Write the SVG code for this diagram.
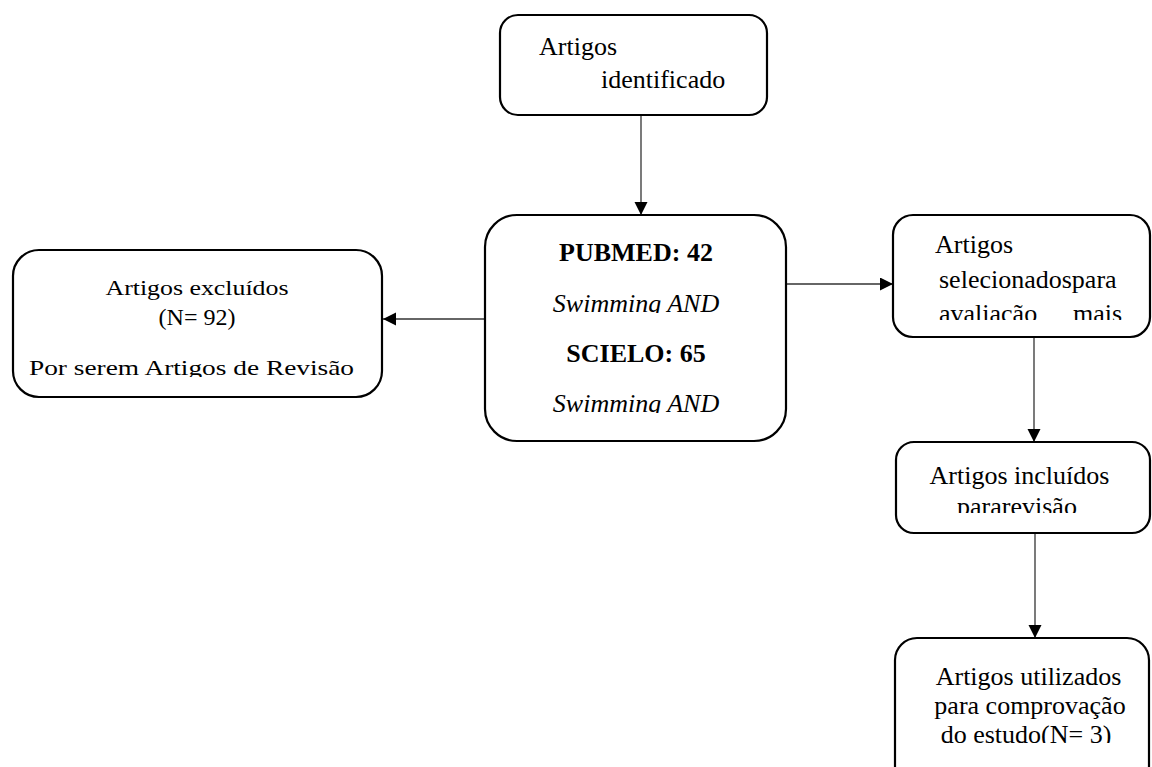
<svg xmlns="http://www.w3.org/2000/svg" width="1152" height="767" viewBox="0 0 1152 767">
<style>
.box{fill:#fff;stroke:#000;stroke-width:2.2}
.t{font-family:"Liberation Serif","Times New Roman",serif;font-size:26px;fill:#000}
.b{font-weight:bold}
.i{font-style:italic}
.c{text-anchor:middle}
.ln{stroke:#333;stroke-width:1.3;fill:none}
</style>
<defs>
<marker id="ah" markerWidth="15" markerHeight="15" refX="13" refY="6.5" orient="auto" markerUnits="userSpaceOnUse">
<path d="M0,0 L13,6.5 L0,13 Z" fill="#000"/>
</marker>
<clipPath id="c1"><rect x="480" y="280" width="310" height="33"/></clipPath>
<clipPath id="c2"><rect x="480" y="380" width="310" height="33"/></clipPath>
<clipPath id="c3"><rect x="10" y="345" width="380" height="32"/></clipPath>
<clipPath id="c4"><rect x="890" y="295" width="262" height="25"/></clipPath>
<clipPath id="c5"><rect x="890" y="490" width="262" height="23"/></clipPath>
<clipPath id="c6"><rect x="890" y="715" width="262" height="28"/></clipPath>
</defs>
<g id="connectors">
<line class="ln" x1="641" y1="115" x2="641" y2="215" marker-end="url(#ah)"/>
<line class="ln" x1="485" y1="319" x2="383" y2="319" marker-end="url(#ah)"/>
<line class="ln" x1="786" y1="284" x2="893" y2="284" marker-end="url(#ah)"/>
<line class="ln" x1="1034" y1="337" x2="1034" y2="442" marker-end="url(#ah)"/>
<line class="ln" x1="1035" y1="533" x2="1035" y2="638" marker-end="url(#ah)"/>
</g>
<g id="n-identificado">
<rect class="box" x="500" y="15" width="267" height="100" rx="18"/>
<text class="t" x="539" y="55">Artigos</text>
<text class="t" x="601" y="88">identificado</text>
</g>
<g id="n-bases">
<rect class="box" x="485" y="215" width="301" height="226" rx="32"/>
<text class="t b c" x="636" y="261">PUBMED: 42</text>
<text class="t i c" x="636" y="312" clip-path="url(#c1)">Swimming AND</text>
<text class="t b c" x="636" y="362">SCIELO: 65</text>
<text class="t i c" x="636" y="412" clip-path="url(#c2)">Swimming AND</text>
</g>
<g id="n-excluidos">
<rect class="box" x="13" y="250" width="369" height="147" rx="26"/>
<text class="t c" x="197" y="295" textLength="183" lengthAdjust="spacingAndGlyphs" style="font-size:22px">Artigos excluídos</text>
<text class="t c" x="197" y="325" style="font-size:24px">(N= 92)</text>
<text class="t c" x="191.5" y="375" textLength="325" lengthAdjust="spacingAndGlyphs" clip-path="url(#c3)" style="font-size:22px">Por serem Artigos de Revisão</text>
</g>
<g id="n-selecionados">
<rect class="box" x="893" y="215" width="257" height="122" rx="20"/>
<text class="t" x="935" y="253">Artigos</text>
<text class="t" x="939" y="288">selecionadospara</text>
<g clip-path="url(#c4)">
<text class="t" x="939" y="322">avaliação</text>
<text class="t" x="1073" y="322">mais</text>
</g>
</g>
<g id="n-incluidos">
<rect class="box" x="896" y="442" width="254" height="91" rx="18"/>
<text class="t c" x="1019.5" y="484">Artigos incluídos</text>
<text class="t c" x="1017" y="515" clip-path="url(#c5)">pararevisão</text>
</g>
<g id="n-utilizados">
<rect class="box" x="895" y="638" width="254" height="150" rx="22"/>
<text class="t c" x="1028.5" y="685">Artigos utilizados</text>
<text class="t c" x="1030" y="714">para comprovação</text>
<text class="t c" x="1026" y="743" clip-path="url(#c6)">do estudo(N= 3)</text>
</g>
</svg>
